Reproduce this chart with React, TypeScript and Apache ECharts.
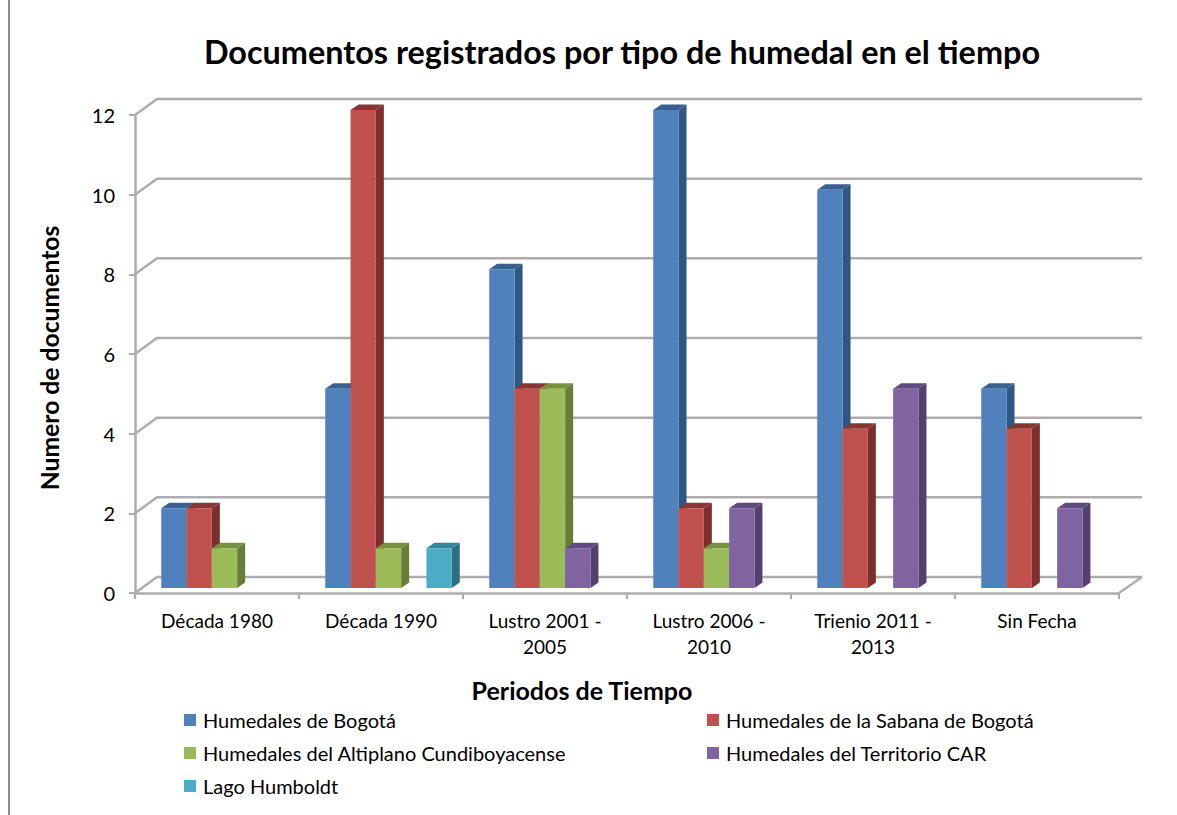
import React, { useEffect, useRef } from "react";
import * as echarts from "echarts";

const categories = ["Década 1980", "Década 1990", "Lustro 2001 -\n2005", "Lustro 2006 -\n2010", "Trienio 2011 -\n2013", "Sin Fecha"];
const seriesNames = ["Humedales de Bogotá", "Humedales de la Sabana de Bogotá", "Humedales del Altiplano Cundiboyacense", "Humedales del Territorio CAR", "Lago Humboldt"];
const bogota = [2, 5, 8, 12, 10, 5];
const sabana = [2, 12, 5, 2, 4, 4];
const altiplano = [1, 1, 5, 1, null, null];
const territorio = [null, null, 1, 2, 5, 2];
const humboldt = [null, 1, null, null, null, null];
const yTicks = [0, 2, 4, 6, 8, 10, 12];
const faceColors = ["#4f81bd", "#c0504d", "#9bbb59", "#8064a2", "#4bacc6"];
const sideColors = ["#2f5785", "#7d2f2d", "#677d38", "#54406f", "#2d6f82"];
const topColors = ["#38618f", "#8a3533", "#76913f", "#5f4a7f", "#33879d"];

const FONT = "Lato, sans-serif";
const GREY = "#adadad";
const BAR_W = 25.3;
const DX = 7.5, DY = -5;   // bar front plane relative to the axis plane
const SX = 8, SY = -5.5;   // bar depth
const WX = 23, WY = -16;   // wall depth

function barSeries(idx: number, values: (number | null)[]) {
  return {
    type: "custom",
    name: seriesNames[idx],
    z: 3,
    itemStyle: { color: faceColors[idx] },
    data: values.map((v, i) => [i, v]).filter((d) => d[1] != null),
    encode: { x: 0, y: 1 },
    renderItem: (_p: any, api: any) => {
      const top = api.coord([api.value(0), api.value(1)]);
      const base = api.coord([api.value(0), 0]);
      const x0 = top[0] + (idx - 2.5) * BAR_W + DX;
      const x1 = x0 + BAR_W;
      const yt = top[1] + DY;
      const yb = base[1] + DY;
      return {
        type: "group",
        children: [
          { type: "polygon", shape: { points: [[x1, yt], [x1 + SX, yt + SY], [x1 + SX, yb + SY], [x1, yb]] }, style: { fill: sideColors[idx] } },
          { type: "polygon", shape: { points: [[x0, yt], [x0 + SX, yt + SY], [x1 + SX, yt + SY], [x1, yt]] }, style: { fill: topColors[idx] } },
          { type: "rect", shape: { x: x0, y: yt, width: BAR_W, height: yb - yt }, style: { fill: faceColors[idx] } },
        ],
      };
    },
  };
}

const wallSeries = {
  type: "custom",
  name: "walls",
  z: 1,
  silent: true,
  data: yTicks.map((v) => [0, v]),
  encode: { x: 0, y: 1 },
  renderItem: (params: any, api: any) => {
    const y = api.coord([0, api.value(1)])[1];
    const cs = params.coordSys;
    const xl = cs.x, xr = cs.x + cs.width;
    const lineStyle = { stroke: GREY, lineWidth: 2.5, fill: "none" };
    const children: any[] = [
      { type: "polyline", shape: { points: [[xl, y], [xl + WX - 1, y + WY], [xr + WX, y + WY]] }, style: lineStyle },
    ];
    if (api.value(1) === 0) {
      children.push({ type: "line", shape: { x1: xr, y1: y, x2: xr + WX, y2: y + WY }, style: lineStyle });
    }
    return { type: "group", children };
  },
};

export default function App() {
  const ref = useRef<HTMLDivElement>(null);
  useEffect(() => {
    const chart = echarts.init(ref.current!, undefined, { renderer: "svg" });
    const legendText = { fontFamily: FONT, fontSize: 20, color: "#000", padding: [0, 0, 0, 2] };
    chart.setOption({
      animation: false,
      backgroundColor: "#fff",
      title: {
        text: "Documentos registrados por tipo de humedal en el tiempo",
        left: 617,
        top: 30,
        textAlign: "center",
        textStyle: { fontFamily: FONT, fontSize: 32.4, fontWeight: "bold", color: "#000" },
      },
      grid: { left: 135, right: 58, top: 115, bottom: 222 },
      legend: [
        {
          orient: "vertical", left: 179, top: 705, itemWidth: 12, itemHeight: 12, itemGap: 13, icon: "rect",
          data: [seriesNames[0], seriesNames[2], seriesNames[4]], textStyle: legendText, selectedMode: false,
        },
        {
          orient: "vertical", left: 702, top: 705, itemWidth: 12, itemHeight: 12, itemGap: 13, icon: "rect",
          data: [seriesNames[1], seriesNames[3]], textStyle: legendText, selectedMode: false,
        },
      ],
      xAxis: {
        type: "category",
        data: categories,
        name: "Periodos de Tiempo",
        nameLocation: "middle",
        nameGap: 84,
        nameTextStyle: { fontFamily: FONT, fontSize: 25, fontWeight: "bold", color: "#000", padding: [0, 90, 0, 0] },
        axisLine: { lineStyle: { color: GREY, width: 2.5 } },
        axisTick: { show: true, length: 6, lineStyle: { color: GREY, width: 2 } },
        axisLabel: { fontFamily: FONT, fontSize: 19, color: "#000", margin: 14, lineHeight: 26, interval: 0 },
        splitLine: { show: false },
      },
      yAxis: {
        type: "value",
        min: 0,
        max: 12,
        interval: 2,
        name: "Numero de documentos",
        nameLocation: "middle",
        nameGap: 73,
        nameTextStyle: { fontFamily: FONT, fontSize: 24.7, fontWeight: "bold", color: "#000", padding: [0, 8, 0, 0] },
        axisLine: { show: true, lineStyle: { color: GREY, width: 2.5 } },
        axisTick: { show: true, length: 6, lineStyle: { color: GREY, width: 2 } },
        axisLabel: { fontFamily: FONT, fontSize: 20, color: "#000", margin: 20 },
        splitLine: { show: false },
      },
      graphic: [
        { type: "rect", shape: { x: 8, y: 0, width: 2, height: 815 }, style: { fill: "#8c8c8c" } },
      ],
      series: [
        wallSeries,
        barSeries(0, bogota),
        barSeries(1, sabana),
        barSeries(2, altiplano),
        barSeries(3, territorio),
        barSeries(4, humboldt),
      ],
    });
    return () => chart.dispose();
  }, []);
  return <div ref={ref} style={{ position: "fixed", left: 0, top: 0, width: 1177, height: 815 }} />;
}
